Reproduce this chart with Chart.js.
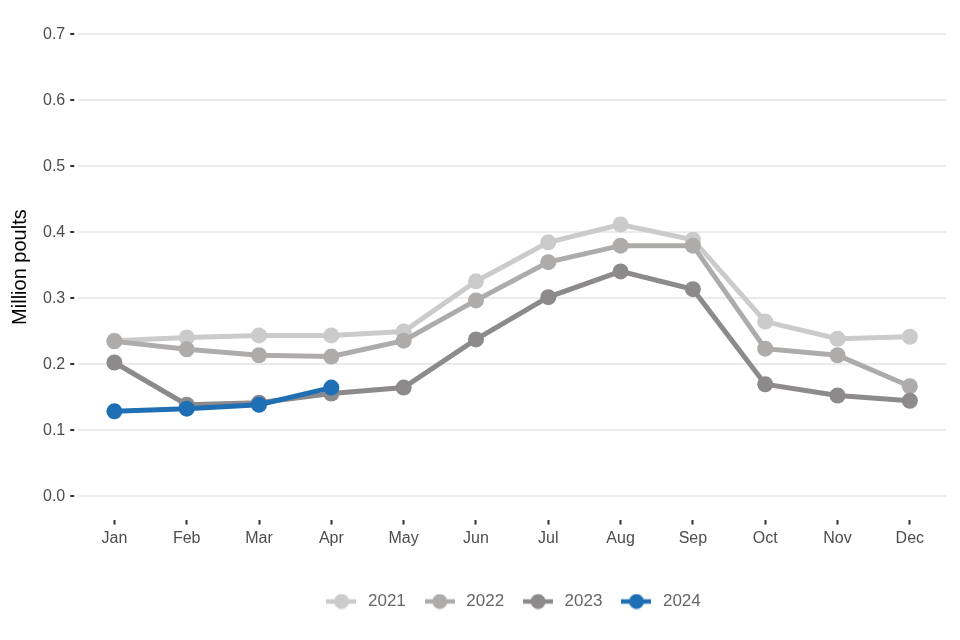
<!DOCTYPE html>
<html>
<head>
<meta charset="utf-8">
<script src="https://cdn.jsdelivr.net/npm/chart.js@4.4.1/dist/chart.umd.min.js"></script>
<style>
  html, body { margin: 0; padding: 0; background: #fff; }
  #wrap { width: 960px; height: 640px; }
</style>
</head>
<body>
<div id="wrap"><canvas id="grafico"></canvas></div>
<script>
// Dados (milhões de peruzinhos)
const meses = ['Jan', 'Feb', 'Mar', 'Apr', 'May', 'Jun', 'Jul', 'Aug', 'Sep', 'Oct', 'Nov', 'Dec'];
const anos = ['2021', '2022', '2023', '2024'];
const valores2021 = [0.236, 0.241, 0.244, 0.244, 0.250, 0.326, 0.385, 0.412, 0.389, 0.265, 0.239, 0.242];
const valores2022 = [0.235, 0.223, 0.214, 0.212, 0.236, 0.297, 0.355, 0.380, 0.380, 0.224, 0.214, 0.167];
const valores2023 = [0.203, 0.139, 0.142, 0.156, 0.165, 0.238, 0.302, 0.341, 0.314, 0.170, 0.153, 0.145];
const valores2024 = [0.129, 0.133, 0.139, 0.165];
const ticksY = [0, 0.1, 0.2, 0.3, 0.4, 0.5, 0.6, 0.7];

const cores = ['#cccbcc', '#aeabab', '#8d8a8b', '#1f6fb5'];
const series = [valores2021, valores2022, valores2023, valores2024];
const fonte = 'Liberation Sans, Arial, sans-serif';

// Ícone da legenda: linha com ponto no meio
function iconeLegenda(cor) {
    const c = document.createElement('canvas');
    c.width = 30;
    c.height = 16;
    const g = c.getContext('2d');
    g.strokeStyle = cor;
    g.lineWidth = 4.5;
    g.beginPath();
    g.moveTo(0, 8);
    g.lineTo(30, 8);
    g.stroke();
    g.fillStyle = cor;
    g.beginPath();
    g.arc(15, 8, 7.5, 0, Math.PI * 2);
    g.fill();
    return c;
}

const datasets = anos.map((ano, i) => ({
    label: ano,
    data: series[i],
    borderColor: cores[i],
    backgroundColor: cores[i],
    borderWidth: 5,
    pointRadius: 8,
    pointHoverRadius: 8,
    pointBorderWidth: 0,
    tension: 0,
    order: anos.length - i
}));

const ctx = document.getElementById('grafico').getContext('2d');
new Chart(ctx, {
    type: 'line',
    data: { labels: meses, datasets: datasets },
    options: {
        responsive: true,
        maintainAspectRatio: false,
        animation: false,
        layout: { padding: { left: 8, right: 14, top: 0, bottom: 20 } },
        scales: {
            x: {
                offset: true,
                grid: {
                    drawOnChartArea: false,
                    tickColor: '#333333',
                    tickLength: 5,
                    tickWidth: 2
                },
                border: { display: false },
                ticks: {
                    color: '#4d4d4d',
                    font: { family: fonte, size: 16 },
                    padding: 4
                }
            },
            y: {
                min: -0.035,
                max: 0.730,
                afterBuildTicks: (axis) => {
                    axis.ticks = ticksY.map(v => ({ value: v }));
                },
                grid: {
                    color: '#ebebeb',
                    lineWidth: 2,
                    tickColor: '#333333',
                    tickLength: 8,
                    tickWidth: 2,
                    tickBorderDash: [4, 4]
                },
                border: { display: false },
                ticks: {
                    color: '#4d4d4d',
                    font: { family: fonte, size: 16 },
                    padding: 5,
                    callback: (v) => v.toFixed(1)
                },
                title: {
                    display: true,
                    text: 'Million poults',
                    color: '#000',
                    font: { family: fonte, size: 20 },
                    padding: { top: 0, bottom: 6 }
                }
            }
        },
        plugins: {
            legend: {
                position: 'bottom',
                fullSize: false,
                title: {
                    display: true,
                    text: '',
                    font: { size: 1 },
                    padding: { top: 18, bottom: 6 }
                },
                labels: {
                    usePointStyle: true,
                    pointStyleWidth: 36,
                    color: '#000',
                    font: { family: fonte, size: 17 },
                    padding: 16,
                    generateLabels: (chart) => chart.data.datasets.map((ds, i) => ({
                        text: ds.label,
                        pointStyle: iconeLegenda(ds.borderColor),
                        fillStyle: ds.borderColor,
                        strokeStyle: ds.borderColor,
                        lineWidth: 0,
                        hidden: !chart.isDatasetVisible(i),
                        datasetIndex: i
                    }))
                }
            },
            tooltip: { enabled: false }
        }
    }
});
</script>
</body>
</html>
